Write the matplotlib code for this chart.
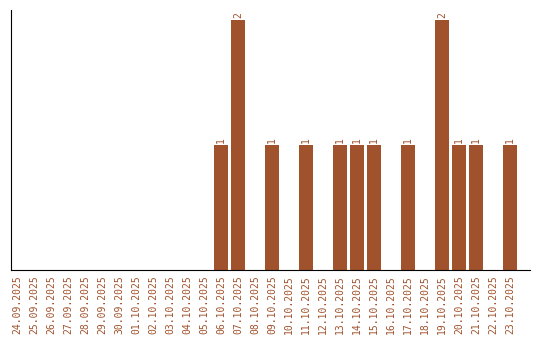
import matplotlib
matplotlib.use("Agg")
import matplotlib.pyplot as plt

# daily counts
dates = ["24.09.2025", "25.09.2025", "26.09.2025", "27.09.2025", "28.09.2025",
         "29.09.2025", "30.09.2025", "01.10.2025", "02.10.2025", "03.10.2025",
         "04.10.2025", "05.10.2025", "06.10.2025", "07.10.2025", "08.10.2025",
         "09.10.2025", "10.10.2025", "11.10.2025", "12.10.2025", "13.10.2025",
         "14.10.2025", "15.10.2025", "16.10.2025", "17.10.2025", "18.10.2025",
         "19.10.2025", "20.10.2025", "21.10.2025", "22.10.2025", "23.10.2025"]
counts = [0, 0, 0, 0, 0, 0, 0, 0, 0, 0, 0, 0, 1, 2, 0,
          1, 0, 1, 0, 1, 1, 1, 0, 1, 0, 2, 1, 1, 0, 1]

color = "#A0522D"
mono = "DejaVu Sans Mono"

fig = plt.figure(figsize=(5.4, 3.4), dpi=100)
ax = fig.add_axes([11 / 540, 70 / 340, 519 / 540, 260 / 340])

x = list(range(len(dates)))
ax.bar(x, counts, width=0.82, color=color)

for xi, c in zip(x, counts):
    if c > 0:
        ax.text(xi, c + 0.02, str(c), rotation=90, ha="center", va="bottom",
                color=color, fontsize=7, family=mono)

ax.set_xlim(-0.35, 30.18)
ax.set_ylim(0, 2.08)
ax.set_xticks(x)
ax.set_xticklabels(dates, rotation=90, color=color, fontsize=7, family=mono)
ax.tick_params(axis="x", length=0, pad=4)
ax.set_yticks([])
ax.spines["top"].set_visible(False)
ax.spines["right"].set_visible(False)

fig.savefig("out.png", dpi=100)
